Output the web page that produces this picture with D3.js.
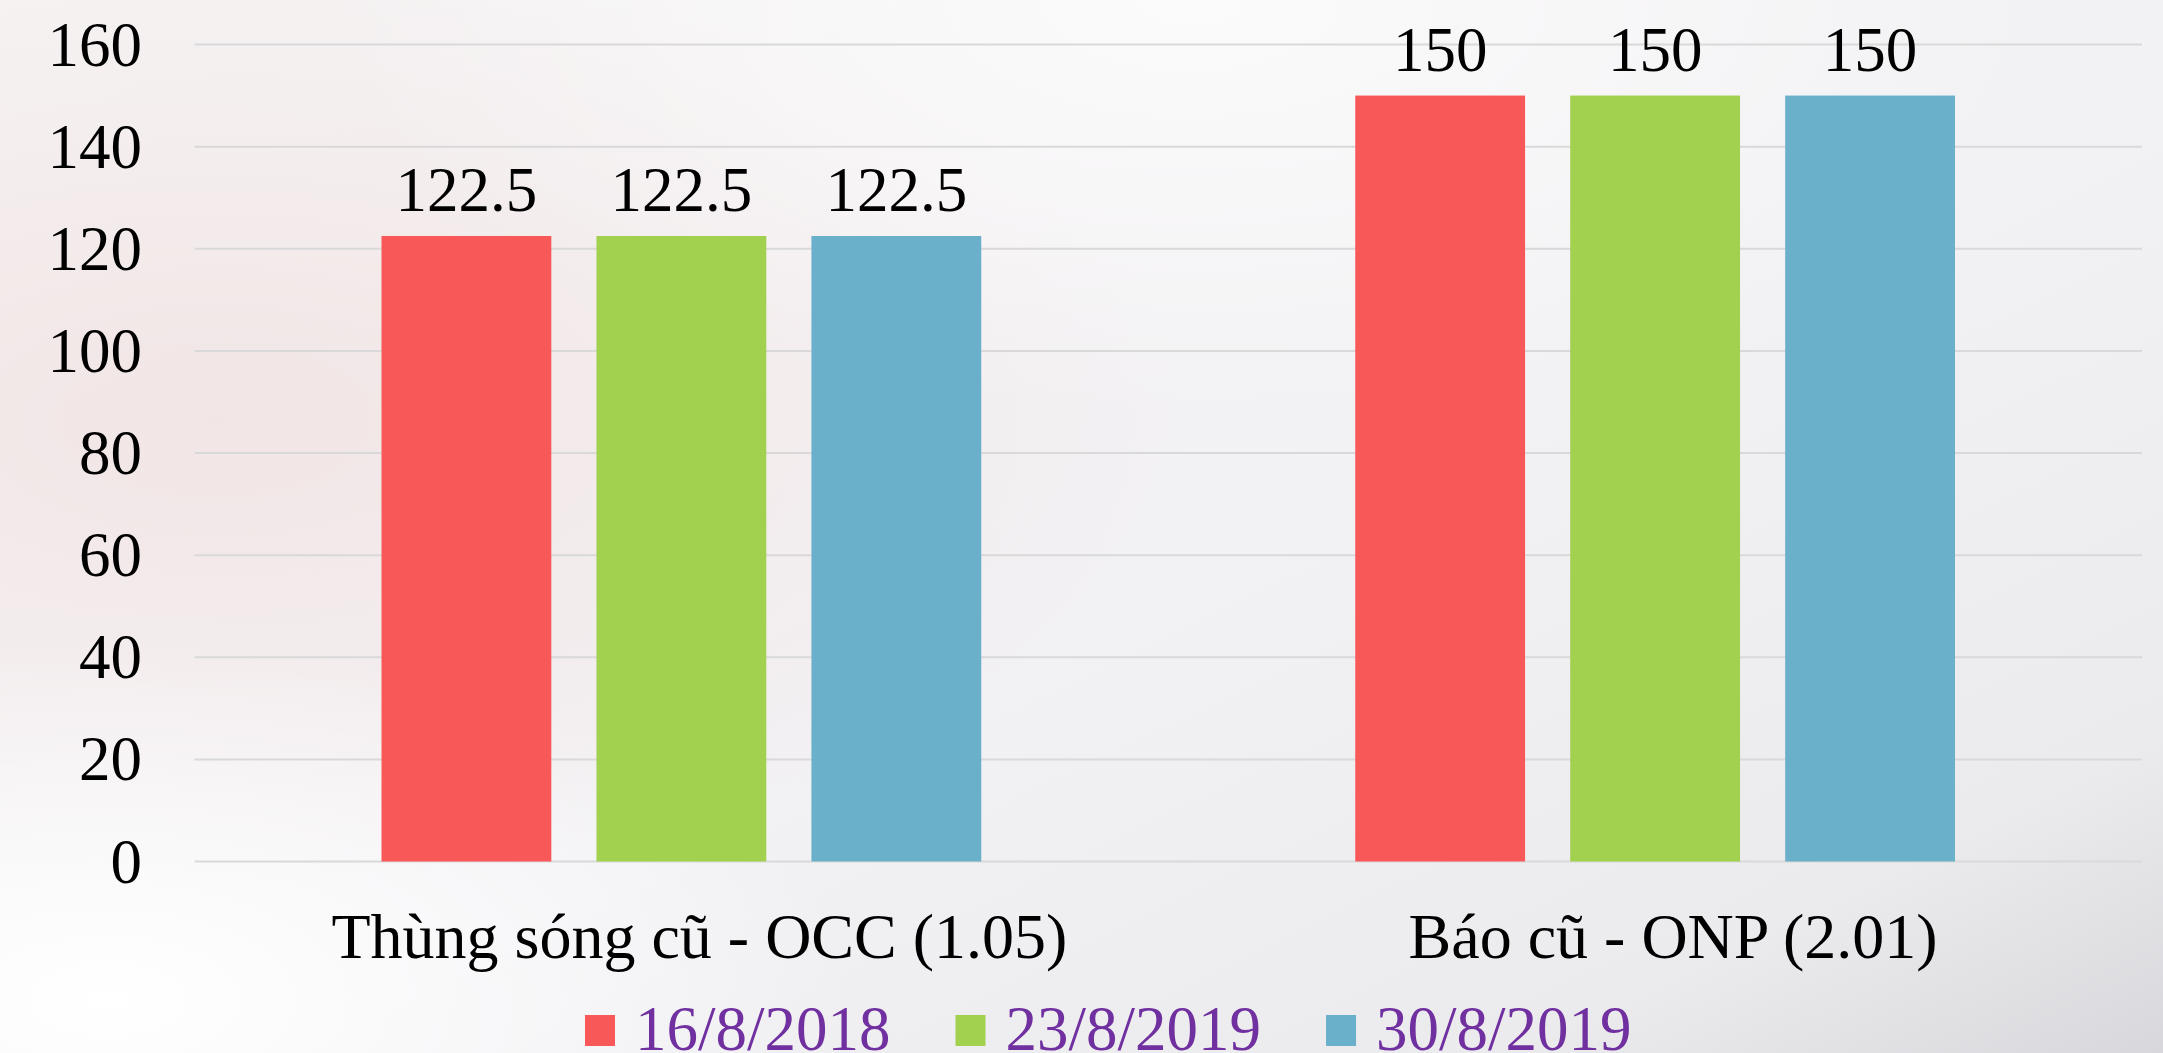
<!DOCTYPE html>
<html>
<head>
<meta charset="utf-8">
<script src="https://cdn.jsdelivr.net/npm/d3@7"></script>
<style>
  html, body { margin: 0; padding: 0; overflow: hidden; }
  svg { display: block; }
  text { font-family: "Liberation Serif", "Times New Roman", serif; }
</style>
</head>
<body>
<svg id="chart"></svg>
<script>
// data
var categories = ["Thùng sóng cũ - OCC (1.05)", "Báo cũ - ONP (2.01)"];
var seriesNames = ["16/8/2018", "23/8/2019", "30/8/2019"];
var seriesColors = ["#F95858", "#A2D04F", "#6AB0CA"];
var values = [
    [122.5, 150],   // 16/8/2018
    [122.5, 150],   // 23/8/2019
    [122.5, 150]    // 30/8/2019
];
var yTicks = [0, 20, 40, 60, 80, 100, 120, 140, 160];

var W = 2163, H = 1053;
var svg = d3.select("#chart").attr("width", W).attr("height", H);

// background
var defs = svg.append("defs");
var lg = defs.append("linearGradient").attr("id", "bg")
    .attr("x1", "0").attr("y1", "0").attr("x2", "1").attr("y2", "1");
lg.append("stop").attr("offset", "0").attr("stop-color", "#f6f3f3");
lg.append("stop").attr("offset", "0.55").attr("stop-color", "#f2f1f4");
lg.append("stop").attr("offset", "0.85").attr("stop-color", "#ebeaed");
lg.append("stop").attr("offset", "1").attr("stop-color", "#d8d7db");
var rg1 = defs.append("radialGradient").attr("id", "pink")
    .attr("cx", "0.1").attr("cy", "0.4").attr("r", "0.45");
rg1.append("stop").attr("offset", "0").attr("stop-color", "#f2e4e4").attr("stop-opacity", 0.9);
rg1.append("stop").attr("offset", "1").attr("stop-color", "#f2e4e4").attr("stop-opacity", 0);
var rg2 = defs.append("radialGradient").attr("id", "white")
    .attr("cx", "0.05").attr("cy", "0.95").attr("r", "0.35");
rg2.append("stop").attr("offset", "0").attr("stop-color", "#ffffff").attr("stop-opacity", 1);
rg2.append("stop").attr("offset", "1").attr("stop-color", "#ffffff").attr("stop-opacity", 0);
var rg3 = defs.append("radialGradient").attr("id", "top")
    .attr("cx", "0.55").attr("cy", "0.0").attr("r", "0.4");
rg3.append("stop").attr("offset", "0").attr("stop-color", "#ffffff").attr("stop-opacity", 0.7);
rg3.append("stop").attr("offset", "1").attr("stop-color", "#ffffff").attr("stop-opacity", 0);

svg.append("rect").attr("width", W).attr("height", H).attr("fill", "url(#bg)");
svg.append("rect").attr("width", W).attr("height", H).attr("fill", "url(#pink)");
svg.append("rect").attr("width", W).attr("height", H).attr("fill", "url(#white)");
svg.append("rect").attr("width", W).attr("height", H).attr("fill", "url(#top)");

// scales
var plotLeft = 194.5, plotRight = 2142;
var y = d3.scaleLinear().domain([0, 160]).range([861.5, 44.5]);
var x0 = d3.scaleBand().domain(categories).range([plotLeft, plotRight]).padding(0);
var groupPad = 187;
var x1 = d3.scaleBand().domain(seriesNames)
    .range([groupPad, x0.bandwidth() - groupPad])
    .paddingInner(0.21).paddingOuter(0);

// gridlines
svg.append("g").selectAll("line")
    .data(yTicks)
    .enter()
    .append("line")
    .attr("x1", plotLeft).attr("x2", plotRight)
    .attr("y1", function(d){return y(d);})
    .attr("y2", function(d){return y(d);})
    .attr("stroke", "#d9d9d9")
    .attr("stroke-width", 2);

// y axis labels
svg.append("g").selectAll("text")
    .data(yTicks)
    .enter()
    .append("text")
    .attr("x", 142)
    .attr("y", function(d){return y(d) + 21;})
    .attr("text-anchor", "end")
    .attr("font-size", 63)
    .attr("fill", "#000")
    .text(function(d){return d;});

// bars
var groups = svg.append("g").selectAll("g")
    .data(seriesNames)
    .enter()
    .append("g")
    .attr("fill", function(d, i){return seriesColors[i];});

groups.selectAll("rect")
    .data(function(s, i){
        return categories.map(function(c, j){return {cat: c, s: s, v: values[i][j]};});
    })
    .enter()
    .append("rect")
    .attr("x", function(d){return x0(d.cat) + x1(d.s);})
    .attr("y", function(d){return y(d.v);})
    .attr("width", x1.bandwidth())
    .attr("height", function(d){return y(0) - y(d.v);});

// value labels
groups.selectAll("text")
    .data(function(s, i){
        return categories.map(function(c, j){return {cat: c, s: s, v: values[i][j]};});
    })
    .enter()
    .append("text")
    .attr("x", function(d){return x0(d.cat) + x1(d.s) + x1.bandwidth() / 2;})
    .attr("y", function(d){return y(d.v) - 25;})
    .attr("text-anchor", "middle")
    .attr("font-size", 63)
    .attr("fill", "#000")
    .text(function(d){return d.v;});

// category labels
svg.append("g").selectAll("text")
    .data(categories)
    .enter()
    .append("text")
    .attr("x", function(d){return x0(d) + x0.bandwidth() / 2 + 18;})
    .attr("y", 958)
    .attr("text-anchor", "middle")
    .attr("font-size", 64)
    .attr("fill", "#000")
    .text(function(d){return d;});

// legend
var legend = svg.append("g");
var lx = 585;
seriesNames.forEach(function(name, i){
    legend.append("rect")
        .attr("x", lx).attr("y", 1015)
        .attr("width", 30).attr("height", 31)
        .attr("fill", seriesColors[i]);
    var t = legend.append("text")
        .attr("x", lx + 50).attr("y", 1050)
        .attr("font-size", 63)
        .attr("fill", "#7030A0")
        .text(name);
    lx = lx + 50 + t.node().getComputedTextLength() + 65;
});
</script>
</body>
</html>
